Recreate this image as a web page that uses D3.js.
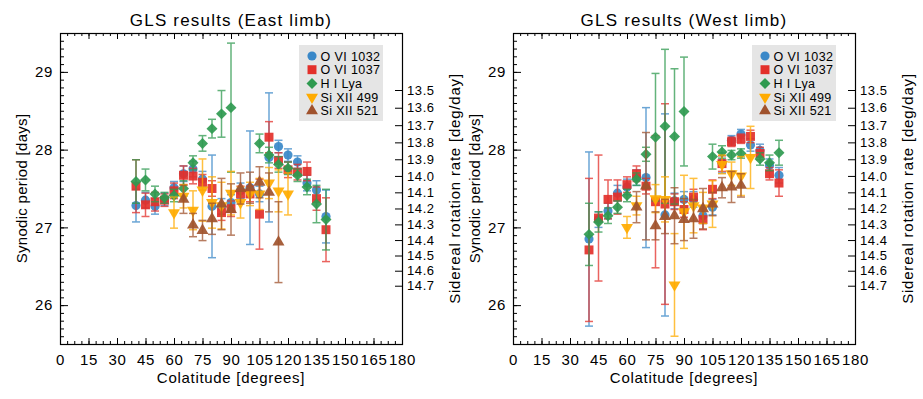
<!DOCTYPE html>
<html>
<head>
<meta charset="utf-8">
<script src="https://cdn.jsdelivr.net/npm/d3@7"></script>
<style>
  body { margin: 0; background: #fff; }
  text { font-family: "Liberation Sans", Arial, sans-serif; fill: #000; }
</style>
</head>
<body>
<svg id="chart"></svg>
<script>
// legend / series
const seriesNames = ['O VI 1032', 'O VI 1037', 'H I Lya', 'Si XII 499', 'Si XII 521']
const seriesColors = ['#3a88c8', '#e3302a', '#2f9a50', '#ffab00', '#a0522d']

// [colatitude, synodic period, error] -- East limb
const eastO1032 = [[40,27.28,0.21],[45,27.35,0.1],[50,27.27,0.1],[55,27.36,0.08],[60,27.51,0.08],[65,27.69,0.1],[70,27.75,0.1],[75,27.62,0.1],[80,27.27,0.66],[85,27.27,0.1],[90,27.32,0.1],[95,27.47,0.1],[100,27.51,0.73],[105,27.43,0.1],[110,27.90,0.83],[115,28.04,0.08],[120,27.93,0.08],[125,27.84,0.08],[130,27.57,0.1],[135,27.48,0.12],[140,27.14,0.34]]
const eastO1037 = [[40,27.53,0.34],[45,27.29,0.15],[50,27.33,0.12],[55,27.35,0.08],[60,27.47,0.1],[65,27.67,0.12],[70,27.66,0.1],[75,27.58,0.1],[80,27.50,0.1],[85,27.19,0.1],[90,27.24,0.1],[95,27.43,0.1],[100,27.43,0.1],[105,27.17,0.45],[110,28.16,0.2],[115,27.86,0.1],[120,27.74,0.1],[125,27.71,0.1],[130,27.72,0.12],[135,27.37,0.15],[140,26.97,0.41]]
const eastHLya = [[40,27.59,0.28],[45,27.61,0.14],[50,27.43,0.1],[55,27.38,0.07],[60,27.41,0.08],[65,27.50,0.1],[70,27.83,0.09],[75,28.08,0.1],[80,28.27,0.12],[85,28.46,0.3],[90,28.54,0.83],[105,28.08,0.12],[110,27.93,0.1],[115,27.81,0.1],[120,27.76,0.08],[125,27.67,0.08],[130,27.52,0.1],[135,27.30,0.24],[140,27.10,0.39]]
const eastSi499 = [[60,27.19,0.2],[65,27.40,0.15],[70,27.22,0.25],[75,27.48,0.4],[80,27.32,0.33],[85,27.28,0.3],[90,27.44,0.28],[95,27.32,0.2],[100,27.43,0.15],[105,27.43,0.2],[110,27.57,0.2],[115,27.47,0.27],[120,27.43,0.27]]
const eastSi521 = [[65,27.36,0.18],[70,27.03,0.15],[75,26.96,0.13],[80,27.11,0.2],[85,27.30,0.33],[90,27.23,0.33],[95,27.50,0.2],[100,27.51,0.2],[105,27.58,0.2],[110,27.45,0.25],[115,26.81,0.52]]

// West limb
const westO1032 = [[40,26.85,1.12],[45,27.10,0.1],[50,27.21,0.1],[55,27.44,0.1],[60,27.52,0.1],[65,27.64,0.1],[70,27.64,0.9],[80,27.16,1.3],[85,27.34,0.1],[90,27.36,0.1],[95,27.36,0.1],[100,27.15,0.1],[105,27.26,0.1],[110,27.83,0.13],[115,28.12,0.06],[120,28.20,0.06],[125,28.06,0.08],[130,27.99,0.08],[135,27.80,0.08],[140,27.67,0.1]]
const westO1037 = [[40,26.71,0.92],[45,27.12,0.81],[50,27.36,0.25],[55,27.39,0.22],[60,27.55,0.1],[65,27.69,0.1],[70,27.53,0.1],[75,27.33,0.85],[80,27.30,1.29],[85,27.33,0.1],[90,27.23,0.1],[95,27.39,0.1],[100,27.10,0.13],[105,27.49,0.12],[110,27.82,0.1],[115,28.10,0.06],[120,28.14,0.06],[125,28.17,0.08],[130,27.95,0.08],[135,27.69,0.08],[140,27.57,0.17]]
const westHLya = [[40,26.91,0.4],[45,27.07,0.13],[50,27.15,0.1],[55,27.26,0.08],[60,27.41,0.08],[65,27.62,0.08],[70,27.94,0.09],[75,28.16,0.82],[80,28.30,0.99],[85,28.17,0.87],[90,28.49,0.7],[105,27.91,0.16],[110,27.97,0.08],[115,27.93,0.06],[120,27.95,0.06],[130,27.88,0.08],[135,27.83,0.1],[140,27.96,0.16]]
const westSi499 = [[60,27.00,0.14],[65,27.28,0.12],[75,27.37,0.18],[80,27.36,0.29],[85,26.26,0.66],[90,27.20,0.47],[95,27.28,0.35],[100,27.25,0.2],[105,27.30,0.3],[110,27.81,0.12],[115,27.69,0.15],[120,27.66,0.25],[125,27.90,0.4]]
const westSi521 = [[65,27.26,0.2],[70,27.53,0.69],[75,27.02,0.18],[80,27.14,0.22],[85,27.15,0.36],[90,27.10,0.27],[95,27.11,0.25],[100,27.24,0.26],[105,27.30,0.15],[110,27.51,0.13],[115,27.52,0.2],[120,27.54,0.15]]

// axis ticks
const colatTicks = [0, 15, 30, 45, 60, 75, 90, 105, 120, 135, 150, 165, 180]
const periodTicks = [26, 27, 28, 29]
const siderealTicks = [13.5, 13.6, 13.7, 13.8, 13.9, 14.0, 14.1, 14.2, 14.3, 14.4, 14.5, 14.6, 14.7]

const width = 923
const height = 399
const earthRate = 0.9856   // deg/day, synodic -> sidereal

const svg = d3.select('#chart')
    .attr('width', width)
    .attr('height', height)
    .style('background', '#fff')

// symbol for each series
const symbolFor = (i) => {
    if (i === 0) return {type: d3.symbolCircle, size: 66, rot: 0}
    if (i === 1) return {type: d3.symbolSquare, size: 80, rot: 0}
    if (i === 2) return {type: d3.symbolSquare, size: 60, rot: 45}
    if (i === 3) return {type: d3.symbolTriangle, size: 62, rot: 180}
    return {type: d3.symbolTriangle, size: 62, rot: 0}
}

const drawPanel = (left, title, allSeries) => {
    const top = 33
    const bottom = 344
    const right = left + 342

    const x = d3.scaleLinear().domain([0, 180]).range([left, right])
    const y = d3.scaleLinear().domain([25.5, 29.5]).range([bottom, top])

    const g = svg.append('g')

    // minor ticks
    const minorX = d3.range(0, 180.01, 3.75)
    const minorY = d3.range(25.5, 29.501, 0.1)
    g.append('g')
        .attr('transform', `translate(0, ${bottom})`)
        .call(d3.axisBottom(x).tickValues(minorX).tickSize(-3).tickFormat(''))
    g.append('g')
        .attr('transform', `translate(0, ${top})`)
        .call(d3.axisTop(x).tickValues(minorX).tickSize(-3).tickFormat(''))
    g.append('g')
        .attr('transform', `translate(${left}, 0)`)
        .call(d3.axisLeft(y).tickValues(minorY).tickSize(-4).tickFormat(''))

    // major ticks + labels
    g.append('g')
        .attr('transform', `translate(0, ${bottom})`)
        .call(d3.axisBottom(x).tickValues(colatTicks).tickSize(-6).tickPadding(10).tickFormat(d3.format('d')))
    g.append('g')
        .attr('transform', `translate(0, ${top})`)
        .call(d3.axisTop(x).tickValues(colatTicks).tickSize(-6).tickFormat(''))
    g.append('g')
        .attr('transform', `translate(${left}, 0)`)
        .call(d3.axisLeft(y).tickValues(periodTicks).tickSize(-8).tickPadding(7).tickFormat(d3.format('d')))

    g.selectAll('.tick text')
        .style('font-size', '15px')
        .style('letter-spacing', '0.6px')

    // sidereal rate axis on the right
    const siderealPos = siderealTicks.map(r => 360 / (r - earthRate))
    g.append('g')
        .attr('class', 'sidereal')
        .attr('transform', `translate(${right}, 0)`)
        .call(d3.axisRight(y).tickValues(siderealPos).tickSize(-7).tickPadding(5)
            .tickFormat((d, i) => siderealTicks[i].toFixed(1)))
    g.selectAll('.sidereal .tick text')
        .style('font-size', '13px')
        .style('letter-spacing', '0.6px')

    g.selectAll('.domain').remove()
    g.selectAll('.tick line').attr('stroke', '#000').attr('stroke-width', 1)
    g.selectAll('.tick text').style('font-family', '"Liberation Sans", Arial, sans-serif')

    // frame
    g.append('rect')
        .attr('x', left + 0.5).attr('y', top + 0.5)
        .attr('width', right - left).attr('height', bottom - top)
        .attr('fill', 'none').attr('stroke', '#000').attr('stroke-width', 1.2)

    // titles
    g.append('text')
        .attr('x', (left + right) / 2).attr('y', 26)
        .attr('text-anchor', 'middle')
        .style('font-size', '17px')
        .style('letter-spacing', '1.2px')
        .text(title)
    g.append('text')
        .attr('x', (left + right) / 2).attr('y', 383)
        .attr('text-anchor', 'middle')
        .style('font-size', '15px')
        .style('letter-spacing', '0.7px')
        .text('Colatitude [degrees]')
    g.append('text')
        .attr('transform', `translate(${left - 33}, ${(top + bottom) / 2}) rotate(-90)`)
        .attr('text-anchor', 'middle')
        .style('font-size', '15px')
        .style('letter-spacing', '0.3px')
        .text('Synodic period [days]')
    g.append('text')
        .attr('transform', `translate(${right + 58}, ${(top + bottom) / 2}) rotate(-90)`)
        .attr('text-anchor', 'middle')
        .style('font-size', '15px')
        .style('letter-spacing', '0.8px')
        .text('Sidereal rotation rate [deg/day]')

    // data: error bars then markers, series by series
    allSeries.forEach((data, i) => {
        const col = seriesColors[i]
        const sg = g.append('g')
        const sym = symbolFor(i)

        const bars = sg.selectAll('g.bar')
            .data(data)
            .enter()
            .append('g')
            .attr('class', 'bar')
            .attr('stroke', col)
            .attr('stroke-width', 1.5)
            .attr('opacity', 0.75)
        bars.append('line')
            .attr('x1', d => x(d[0])).attr('x2', d => x(d[0]))
            .attr('y1', d => y(d[1] - d[2])).attr('y2', d => y(d[1] + d[2]))
        bars.append('line')
            .attr('x1', d => x(d[0]) - 4).attr('x2', d => x(d[0]) + 4)
            .attr('y1', d => y(d[1] + d[2])).attr('y2', d => y(d[1] + d[2]))
        bars.append('line')
            .attr('x1', d => x(d[0]) - 4).attr('x2', d => x(d[0]) + 4)
            .attr('y1', d => y(d[1] - d[2])).attr('y2', d => y(d[1] - d[2]))

        sg.selectAll('path.pt')
            .data(data)
            .enter()
            .append('path')
            .attr('class', 'pt')
            .attr('d', d3.symbol().type(sym.type).size(sym.size))
            .attr('transform', d => `translate(${x(d[0])}, ${y(d[1])}) rotate(${sym.rot})`)
            .attr('fill', col)
            .attr('opacity', 0.92)
    })

    // legend
    const lx = right - 103
    const ly = 45
    g.append('rect')
        .attr('x', lx).attr('y', ly)
        .attr('width', 84).attr('height', 76)
        .attr('fill', '#e5e5e5')
    seriesNames.forEach((name, i) => {
        const sym = symbolFor(i)
        const ry = 56 + i * 13.7
        g.append('path')
            .attr('d', d3.symbol().type(sym.type).size(sym.size))
            .attr('transform', `translate(${lx + 13}, ${ry}) rotate(${sym.rot})`)
            .attr('fill', seriesColors[i])
        g.append('text')
            .attr('x', lx + 21.5).attr('y', ry + 4.5)
            .style('font-size', '12.5px')
            .style('letter-spacing', '0.4px')
            .style('white-space', 'pre')
            .text(name)
    })
}

drawPanel(60, 'GLS results (East limb)', [eastO1032, eastO1037, eastHLya, eastSi499, eastSi521])
drawPanel(513, 'GLS results (West limb)', [westO1032, westO1037, westHLya, westSi499, westSi521])
</script>
</body>
</html>
